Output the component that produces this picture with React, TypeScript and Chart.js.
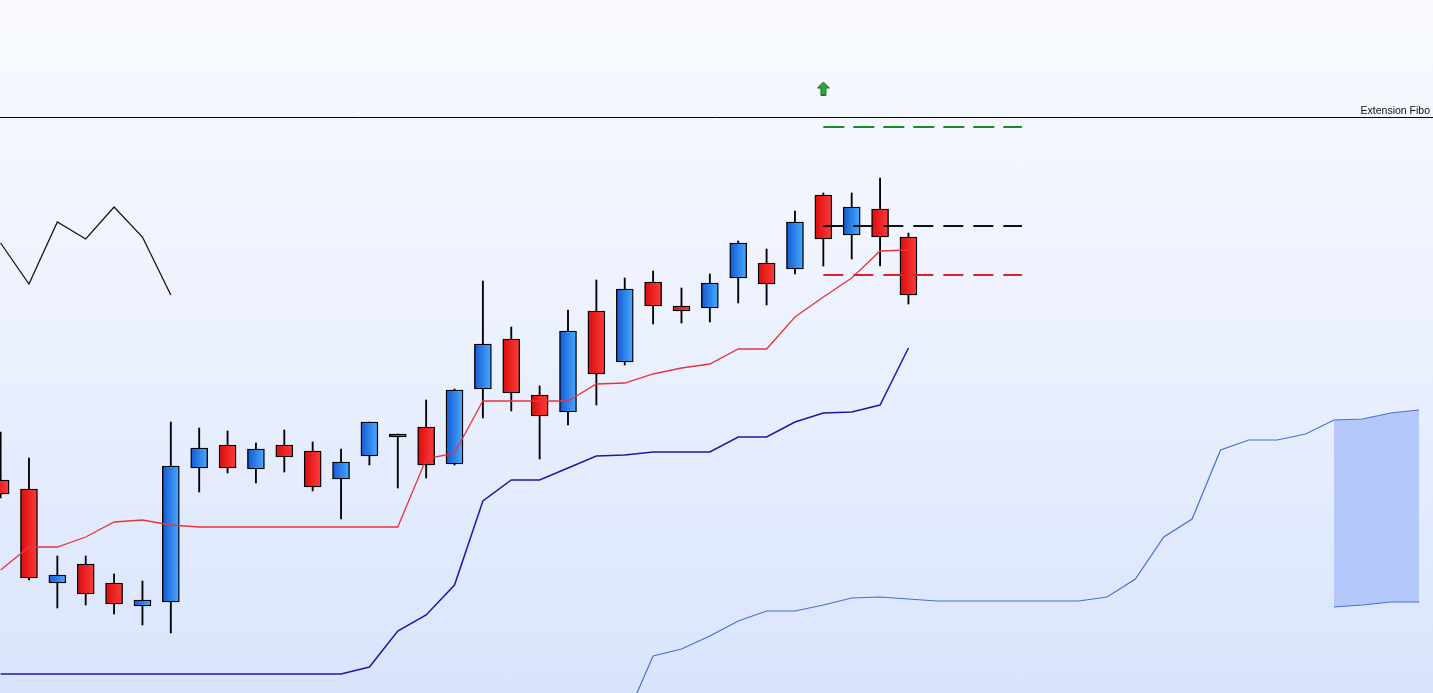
import React, { useEffect, useRef } from "react";
import { Chart, registerables } from "chart.js";

Chart.register(...registerables);

// ---- Candles (index 0..32) ----
const opens = [220, 211, 117, 136, 117, 94, 98, 232, 255, 231, 255, 249, 221, 244, 266, 273, 236, 311, 361, 305, 288, 389, 338, 418, 394, 392, 422, 437, 431, 505, 465, 491, 463];
const highs = [268, 242, 144, 144, 126, 119, 278, 272, 269, 257, 270, 258, 251, 278, 266, 300, 311, 419, 373, 314, 390, 420, 422, 429, 412, 426, 459, 451, 489, 507, 507, 522, 467];
const lows = [202, 120, 92, 95, 86, 75, 67, 208, 227, 217, 228, 209, 181, 235, 212, 222, 235, 282, 289, 241, 275, 295, 335, 376, 377, 378, 397, 395, 426, 434, 441, 434, 396];
const closes = [206, 122, 125, 106, 96, 100, 234, 252, 232, 251, 243, 213, 238, 278, 263, 235, 310, 356, 307, 284, 369, 326, 411, 394, 389, 417, 457, 416, 478, 461, 493, 463, 405];

// ---- Ichimoku-like lines ----
const tenkan = [130, 153, 153, 163, 178, 180, 175, 173, 173, 173, 173, 173, 173, 173, 173, 241, 247, 299, 299, 299, 299, 316, 317, 326, 332, 336, 351, 351, 383, 403, 422, 449, 450];
const kijun = [26, 26, 26, 26, 26, 26, 26, 26, 26, 26, 26, 26, 26, 33, 69, 85, 115, 199, 220, 220, 232, 244, 245, 248, 248, 248, 263, 263, 278, 287, 288, 295, 352];
const chikouStart = 0;
const chikou = [457, 416, 478, 461, 493, 463, 405];
const spanAStart = 22;
const spanA = [-21, 44, 51, 64, 79, 89, 89, 95, 102, 103, 101, 99, 99, 99, 99, 99, 99, 103, 121, 163, 181, 250, 260, 260, 266, 280, 281, 287, 290];
const spanBStart = 47;
const spanB = [93, 95, 98, 98];

// ---- Fibonacci extension levels ----
const levelStart = 29;
const levelEnd = 36;
const levelGreen = 573;
const levelBlack = 474;
const levelRed = 425;
const extensionLevel = 582.5;
const extensionLabel = "Extension Fibo";
const signalIndex = 29;
const signalValue = 611.5;

const X_MIN = -0.0211;
const X_MAX = 50.49;
const Y_MIN = 7;
const Y_MAX = 700;

function series(start: number, vals: number[]) {
  return vals.map((v, k) => ({ x: start + k, y: v }));
}

function makeArrow(): HTMLCanvasElement {
  const c = document.createElement("canvas");
  c.width = 13;
  c.height = 14;
  const g = c.getContext("2d")!;
  g.beginPath();
  g.moveTo(6.5, 0.5);
  g.lineTo(12.5, 6.5);
  g.lineTo(9, 6.5);
  g.lineTo(9, 13.5);
  g.lineTo(4, 13.5);
  g.lineTo(4, 6.5);
  g.lineTo(0.5, 6.5);
  g.closePath();
  g.fillStyle = "#30a83a";
  g.fill();
  g.strokeStyle = "#1a6f22";
  g.lineWidth = 1;
  g.stroke();
  return c;
}

const labelPlugin = {
  id: "fiboLabel",
  afterDatasetsDraw(chart: any) {
    const { ctx, chartArea, scales } = chart;
    const y = scales.y.getPixelForValue(extensionLevel);
    ctx.save();
    ctx.font = '10.5px "Liberation Sans", Arial, sans-serif';
    ctx.fillStyle = "#111";
    ctx.textAlign = "right";
    ctx.textBaseline = "alphabetic";
    ctx.fillText(extensionLabel, chartArea.right - 3, y - 4);
    ctx.restore();
  },
};

const gradientPlugin = {
  id: "candleGradient",
  beforeDatasetsDraw(chart: any) {
    const ds = chart.data.datasets;
    const bi = ds.findIndex((d: any) => d.label === "bodies");
    if (bi < 0) return;
    const meta = chart.getDatasetMeta(bi);
    meta.data.forEach((el: any, i: number) => {
      const { x, width } = el.getProps(["x", "width"], true);
      if (!isFinite(x) || !isFinite(width)) return;
      const up = closes[i] >= opens[i];
      const gr = chart.ctx.createLinearGradient(x - width / 2, 0, x + width / 2, 0);
      if (up) {
        gr.addColorStop(0, "#1458d2");
        gr.addColorStop(1, "#48abff");
      } else {
        gr.addColorStop(0, "#d80c0c");
        gr.addColorStop(1, "#ff3c3c");
      }
      el.options.backgroundColor = gr;
    });
  },
};

export default function App() {
  const ref = useRef<HTMLCanvasElement | null>(null);

  useEffect(() => {
    document.body.style.margin = "0";
    const canvas = ref.current;
    if (!canvas) return;

    const idx = opens.map((_, i) => i);
    const bodyColor = (ctx: any) => {
      const i = ctx.dataIndex;
      return closes[i] >= opens[i] ? "#2a86f5" : "#f42020";
    };

    const lineBase = { type: "line" as const, pointRadius: 0, tension: 0, fill: false };

    const chart = new Chart(canvas, {
      type: "bar",
      data: {
        datasets: [
          {
            ...lineBase,
            label: "levelGreen",
            data: [{ x: levelStart, y: levelGreen }, { x: levelEnd, y: levelGreen }],
            borderColor: "#1f8a2a",
            borderWidth: 2,
            borderDash: [21, 9],
            order: 0,
          } as any,
          {
            ...lineBase,
            label: "levelBlack",
            data: [{ x: levelStart, y: levelBlack }, { x: levelEnd, y: levelBlack }],
            borderColor: "#111",
            borderWidth: 2,
            borderDash: [20, 10],
            order: 0,
          } as any,
          {
            ...lineBase,
            label: "levelRed",
            data: [{ x: levelStart, y: levelRed }, { x: levelEnd, y: levelRed }],
            borderColor: "#e6202a",
            borderWidth: 2,
            borderDash: [20, 10],
            order: 0,
          } as any,
          {
            ...lineBase,
            label: "extension",
            data: [{ x: X_MIN, y: extensionLevel }, { x: X_MAX, y: extensionLevel }],
            borderColor: "#000",
            borderWidth: 1,
            order: 0,
          } as any,
          {
            type: "scatter",
            label: "signal",
            data: [{ x: signalIndex, y: signalValue }],
            pointStyle: makeArrow(),
            pointRadius: 7,
            order: 0,
          } as any,
          {
            ...lineBase,
            label: "tenkan",
            data: series(0, tenkan),
            borderColor: "#e8343e",
            borderWidth: 1.3,
            order: 1,
          } as any,
          {
            ...lineBase,
            label: "kijun",
            data: series(0, kijun),
            borderColor: "#1a1aa8",
            borderWidth: 1.5,
            order: 1,
          } as any,
          {
            ...lineBase,
            label: "chikou",
            data: series(chikouStart, chikou),
            borderColor: "#151515",
            borderWidth: 1.3,
            order: 1,
          } as any,
          {
            ...lineBase,
            label: "spanA",
            data: series(spanAStart, spanA),
            borderColor: "#4a6fd6",
            borderWidth: 1.2,
            order: 1,
          } as any,
          {
            ...lineBase,
            label: "cloudTop",
            data: series(spanBStart, spanA.slice(spanBStart - spanAStart)),
            borderColor: "rgba(0,0,0,0)",
            borderWidth: 0,
            order: 2,
          } as any,
          {
            ...lineBase,
            label: "spanB",
            data: series(spanBStart, spanB),
            borderColor: "#4a6fd6",
            borderWidth: 1.2,
            backgroundColor: "#b4c8fb",
            fill: "-1",
            order: 2,
          } as any,
          {
            type: "bar",
            label: "bodies",
            data: idx.map((i) => ({ x: i, y: [opens[i], closes[i]] })),
            backgroundColor: bodyColor,
            borderColor: "#000",
            borderWidth: 1.4,
            borderSkipped: false,
            barThickness: 17,
            grouped: false,
            order: 3,
          } as any,
          {
            type: "bar",
            label: "wicks",
            data: idx.map((i) => ({ x: i, y: [lows[i], highs[i]] })),
            backgroundColor: "#000",
            borderWidth: 0,
            barThickness: 1.2,
            grouped: false,
            order: 4,
          } as any,
        ],
      },
      options: {
        animation: false,
        responsive: false,
        maintainAspectRatio: false,
        layout: { padding: 0, autoPadding: false },
        events: [],
        scales: {
          x: { type: "linear", min: X_MIN, max: X_MAX, display: false, offset: false },
          y: { type: "linear", min: Y_MIN, max: Y_MAX, display: false },
        },
        plugins: {
          legend: { display: false },
          tooltip: { enabled: false },
        },
      },
      plugins: [gradientPlugin, labelPlugin],
    });

    return () => {
      chart.destroy();
    };
  }, []);

  return (
    <div
      style={{
        width: 1433,
        height: 693,
        background: "linear-gradient(to bottom, #f8faff 0%, #eef3fe 40%, #d9e4fc 100%)",
      }}
    >
      <canvas ref={ref} width={1433} height={693} style={{ display: "block" }} />
    </div>
  );
}
